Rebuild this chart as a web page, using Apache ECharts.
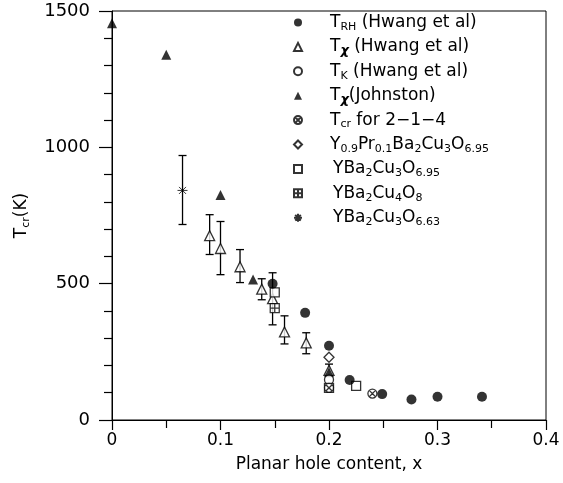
<!DOCTYPE html>
<html>
<head>
<meta charset="utf-8">
<script src="https://cdn.jsdelivr.net/npm/echarts@6/dist/echarts.min.js"></script>
<style>html,body{margin:0;padding:0;background:#fff}#c{width:563px;height:483px}</style>
</head>
<body>
<div id="c"></div>
<script>
// ---- data ----
var trhX = [0.148, 0.178, 0.2, 0.219, 0.249, 0.276, 0.3, 0.341];
var trhY = [500, 393, 272, 147, 95, 75, 85, 85];

var txHX  = [0.09, 0.1, 0.118, 0.138, 0.148, 0.159, 0.179, 0.2];
var txHY  = [676, 629, 562, 480, 445, 323, 283, 182];
var txHLo = [607, 533, 504, 441, 349, 279, 243, 162];
var txHHi = [753, 728, 625, 518, 540, 382, 320, 205];

var tkX = [0.2];
var tkY = [148];

var txJX = [0, 0.05, 0.1, 0.13, 0.2];
var txJY = [1455, 1340, 825, 515, 175];

var tcrX = [0.2, 0.24];
var tcrY = [118, 97];

var yprX = [0.2];
var yprY = [230];

var y695X = [0.15, 0.225, 0.2];
var y695Y = [468, 125, 118];

var y48X = [0.15];
var y48Y = [410];

var y663X = [0.065];
var y663Y = [842];
var y663Lo = [717];
var y663Hi = [970];

var xTicks = [0, 0.1, 0.2, 0.3, 0.4];
var yTicks = [0, 500, 1000, 1500];

var legendNames = ['TRH', 'TXH', 'TK', 'TXJ', 'Tcr', 'YPr', 'Y695', 'Y48', 'Y663'];
var legendLabels = {
  TRH: '{sp| }{m|T}{s|RH}{m| (Hwang et al)}',
  TXH: '{sp| }{m|T}{c|χ}{m| (Hwang et al)}',
  TK: '{sp| }{m|T}{s|K}{m| (Hwang et al)}',
  TXJ: '{sp| }{m|T}{c|χ}{m|(Johnston)}',
  Tcr: '{sp| }{m|T}{s|cr}{m| for 2−1−4}',
  YPr: '{sp| }{m|Y}{s|0.9}{m|Pr}{s|0.1}{m|Ba}{s|2}{m|Cu}{s|3}{m|O}{s|6.95}',
  Y695: '{sp2| }{m|YBa}{s|2}{m|Cu}{s|3}{m|O}{s|6.95}',
  Y48: '{sp2| }{m|YBa}{s|2}{m|Cu}{s|4}{m|O}{s|8}',
  Y663: '{sp2| }{m|YBa}{s|2}{m|Cu}{s|3}{m|O}{s|6.63}'
};

function zip(a, b) { return a.map(function (v, i) { return [v, b[i]]; }); }
function zip3(a, b, c) { return a.map(function (v, i) { return [v, b[i], c[i]]; }); }

var FONT = 'DejaVu Sans';
var rich = {
  sp: { width: 23, fontSize: 17, lineHeight: 20 },
  sp2: { width: 26, fontSize: 17, lineHeight: 20 },
  m: { fontSize: 17, fontFamily: FONT, color: '#000', lineHeight: 20 },
  s: { fontSize: 11, fontFamily: FONT, color: '#000', lineHeight: 10, verticalAlign: 'bottom' },
  c: { fontSize: 13, fontFamily: FONT, color: '#000', fontWeight: 'bold', fontStyle: 'italic', lineHeight: 11, verticalAlign: 'bottom' }
};

var otimes = 'path://M10,0A10,10,0,1,1,10,20A10,10,0,1,1,10,0Z M3,3L17,17 M17,3L3,17';
var boxplus = 'path://M0,0H20V20H0Z M10,0V20 M0,10H20';
var aster = 'path://M10,0V20 M0,10H20 M3,3L17,17 M17,3L3,17';

function errRender(params, api) {
  var x = api.value(0), lo = api.value(1), hi = api.value(2);
  var t = api.coord([x, hi]), b = api.coord([x, lo]);
  var w = 4;
  var st = { stroke: '#000', lineWidth: 1.3 };
  return {
    type: 'group',
    children: [
      { type: 'line', shape: { x1: t[0], y1: t[1], x2: b[0], y2: b[1] }, style: st },
      { type: 'line', shape: { x1: t[0] - w, y1: t[1], x2: t[0] + w, y2: t[1] }, style: st },
      { type: 'line', shape: { x1: b[0] - w, y1: b[1], x2: b[0] + w, y2: b[1] }, style: st }
    ]
  };
}

var open = { color: '#fff', borderColor: '#000', borderWidth: 1.3 };
var solid = { color: '#000' };

var chart = echarts.init(document.getElementById('c'), null, { renderer: 'canvas' });
chart.setOption({
  animation: false,
  backgroundColor: '#fff',
  grid: { left: 112, right: 17, top: 11, bottom: 63, show: true, borderColor: '#000', borderWidth: 1, containLabel: false },
  legend: {
    data: legendNames,
    orient: 'vertical',
    left: 293,
    top: 14,
    padding: 0,
    itemGap: 5.9,
    itemWidth: 8,
    itemHeight: 8,
    selectedMode: false,
    formatter: function (n) { return legendLabels[n]; },
    textStyle: { rich: rich, fontFamily: FONT, fontSize: 17, color: '#000' }
  },
  xAxis: {
    type: 'value', min: 0, max: 0.4, interval: 0.1,
    name: 'Planar hole content, x', nameLocation: 'middle', nameGap: 36,
    nameTextStyle: { fontFamily: FONT, fontSize: 17, color: '#000' },
    axisLine: { lineStyle: { color: '#000', width: 1 } },
    axisTick: { show: true, length: 10, lineStyle: { color: '#000', width: 1.2 } },
    minorTick: { show: true, splitNumber: 2, length: 8, lineStyle: { color: '#000', width: 1.2 } },
    splitLine: { show: false },
    axisLabel: { margin: 12, fontFamily: FONT, fontSize: 17, color: '#000',
      formatter: function (v) { return xTicks.indexOf(Math.round(v * 10) / 10) >= 0 ? String(Math.round(v * 10) / 10) : ''; } }
  },
  yAxis: {
    type: 'value', min: 0, max: 1500, interval: 500,
    name: '{m|T}{s|cr}{m|(K)}', nameLocation: 'middle', nameGap: 80,
    nameTextStyle: { rich: rich },
    axisLine: { lineStyle: { color: '#000', width: 1 } },
    axisTick: { show: true, length: 13, lineStyle: { color: '#000', width: 1.2 } },
    minorTick: { show: true, splitNumber: 5, length: 8, lineStyle: { color: '#000', width: 1.2 } },
    splitLine: { show: false },
    axisLabel: { margin: 22, fontFamily: FONT, fontSize: 18, color: '#000',
      formatter: function (v) { return yTicks.indexOf(v) >= 0 ? String(v) : ''; } }
  },
  series: [
    { type: 'custom', name: 'errH', renderItem: errRender, data: zip3(txHX, txHLo, txHHi), encode: { x: 0, y: [1, 2] }, z: 1, silent: true },
    { type: 'custom', name: 'err663', renderItem: errRender, data: zip3(y663X, y663Lo, y663Hi), encode: { x: 0, y: [1, 2] }, z: 1, silent: true },
    { type: 'scatter', name: 'TXH', data: zip(txHX, txHY), symbol: 'triangle', symbolSize: 10, itemStyle: open, z: 3 },
    { type: 'scatter', name: 'TXJ', data: zip(txJX, txJY), symbol: 'triangle', symbolSize: 10, itemStyle: solid, z: 3 },
    { type: 'scatter', name: 'YPr', data: zip(yprX, yprY), symbol: 'diamond', symbolSize: 10, itemStyle: open, z: 3 },
    { type: 'scatter', name: 'TK', data: zip(tkX, tkY), symbol: 'circle', symbolSize: 9, itemStyle: open, z: 3 },
    { type: 'scatter', name: 'Y695', data: zip(y695X, y695Y), symbol: 'rect', symbolSize: 9, itemStyle: open, z: 3 },
    { type: 'scatter', name: 'Y48', data: zip(y48X, y48Y), symbol: boxplus, symbolSize: 9, itemStyle: open, z: 3 },
    { type: 'scatter', name: 'Tcr', data: zip(tcrX, tcrY), symbol: otimes, symbolSize: 9, itemStyle: open, z: 4 },
    { type: 'scatter', name: 'Y663', data: zip(y663X, y663Y), symbol: aster, symbolSize: 10, itemStyle: { color: '#000', borderColor: '#000', borderWidth: 1 }, z: 4 },
    { type: 'scatter', name: 'TRH', data: zip(trhX, trhY), symbol: 'circle', symbolSize: 10, itemStyle: solid, z: 4 }
  ]
});
</script>
</body>
</html>
